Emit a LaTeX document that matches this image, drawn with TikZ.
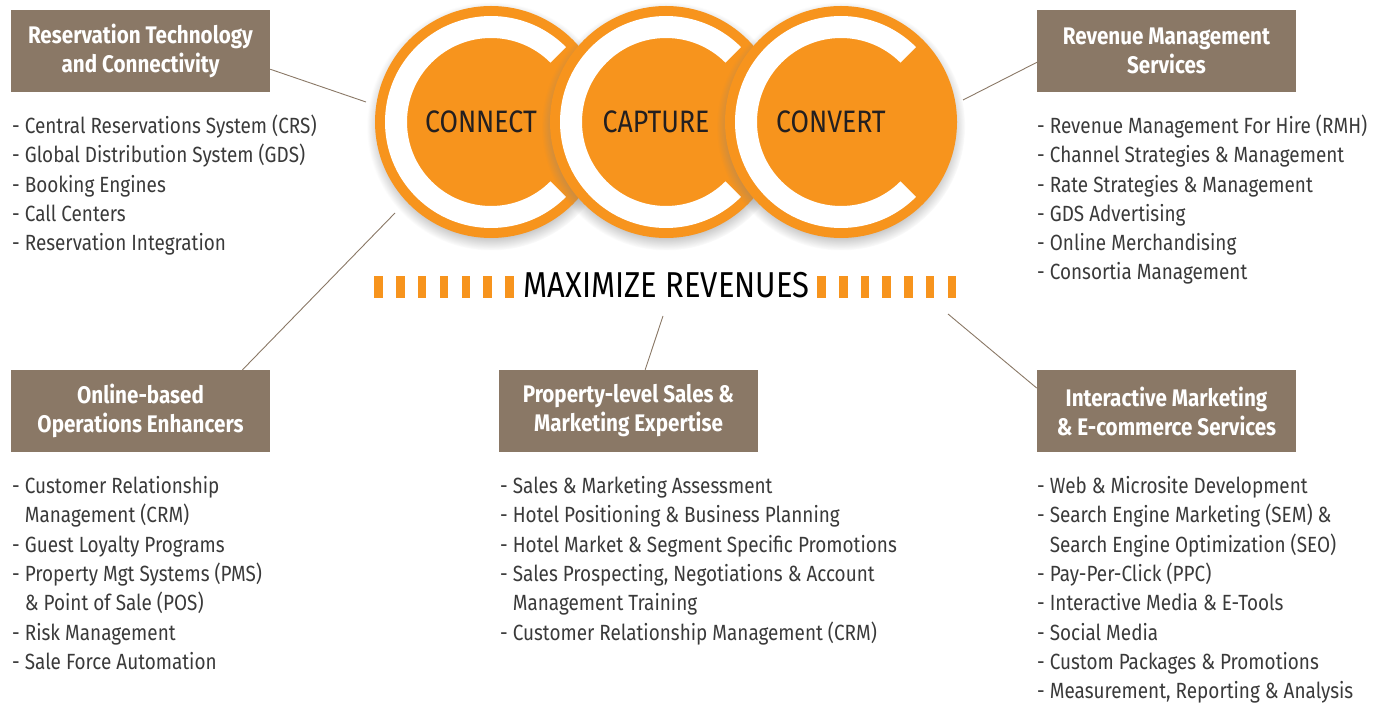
\documentclass[tikz,border=0pt]{standalone}
\usepackage{fontspec}
\setmainfont{Fira Sans}[FakeStretch=0.86]
\usetikzlibrary{positioning, shadows, calc}
\definecolor{boxbrown}{HTML}{8A7866}
\definecolor{ccorange}{HTML}{F7941D}
\definecolor{listgray}{HTML}{3A3A3A}
\definecolor{ccdark}{HTML}{231F20}
\newcommand{\ind}{\hphantom{- }}

\begin{document}
\begin{tikzpicture}[x=1pt, y=-1pt,
  hdr/.style={fill=boxbrown, text=white, minimum width=259, minimum height=82, inner sep=0pt, align=center, font=\fontsize{24}{29}\selectfont\bfseries},
  lst/.style={anchor=base west, inner sep=0pt, align=left, text=listgray, font=\fontsize{22}{29.3}\selectfont},
  ctext/.style={text=ccdark, font=\fontsize{31}{36}\selectfont},
  link/.style={draw=boxbrown, line width=0.9pt},
  bar/.style={fill=ccorange}]

\useasboundingbox (0,0) rectangle (1390,703);

% three C rings
\foreach \cx/\nm/\txt in {491/connect/CONNECT, 666/capture/CAPTURE, 841/convert/CONVERT}{
  \fill[ccorange, circular drop shadow={shadow scale=1.07, shadow xshift=0pt, shadow yshift=-4pt, opacity=0.6}] (\cx,122) circle (116);
  \fill[white] (\cx,122) ++(45:106) arc (45:315:106) -- ++(135:22) arc (315:45:84) -- cycle;
  \node[ctext] (\nm) at (\cx-10,122) {\txt};
}

% tagline with bars
\foreach \i in {0,...,6}{
  \fill[bar] (374.3+21.8*\i,276) rectangle ++(8.5,22);
  \fill[bar] (817.3+21.7*\i,276) rectangle ++(8.5,22);
}
\node[anchor=base, inner sep=0pt, text=black, font=\fontsize{36}{40}\selectfont] (maxrev) at (666.5,298) {MAXIMIZE REVENUES};

% headers
\node[hdr] (rtc) at (140.5,51) {Reservation Technology\\and Connectivity};
\node[hdr] (rms) at (1166.5,51) {Revenue Management\\Services};
\node[hdr] (obe) at (140.5,411) {Online-based\\Operations Enhancers};
\node[hdr] (pls) at (628.5,411) {Property-level Sales \&\\Marketing Expertise};
\node[hdr] (ims) at (1166.5,411) {Interactive Marketing\\\& E-commerce Services};

% lists (anchored on the baseline of the last line)
\node[lst] (rtcl) at (12,250.7) {- Central Reservations System (CRS)\\- Global Distribution System (GDS)\\- Booking Engines\\- Call Centers\\- Reservation Integration};
\node[lst] (rmsl) at (1037,280) {- Revenue Management For Hire (RMH)\\- Channel Strategies \& Management\\- Rate Strategies \& Management\\- GDS Advertising\\- Online Merchandising\\- Consortia Management};
\node[lst] (obel) at (12,669.3) {- Customer Relationship\\\ind Management (CRM)\\- Guest Loyalty Programs\\- Property Mgt Systems (PMS)\\\ind\& Point of Sale (POS)\\- Risk Management\\- Sale Force Automation};
\node[lst] (plsl) at (500,640) {- Sales \& Marketing Assessment\\- Hotel Positioning \& Business Planning\\- Hotel Market \& Segment Specific Promotions\\- Sales Prospecting, Negotiations \& Account\\\ind Management Training\\- Customer Relationship Management (CRM)};
\node[lst] (imsl) at (1037,698.6) {- Web \& Microsite Development\\- Search Engine Marketing (SEM) \&\\\ind Search Engine Optimization (SEO)\\- Pay-Per-Click (PPC)\\- Interactive Media \& E-Tools\\- Social Media\\- Custom Packages \& Promotions\\- Measurement, Reporting \& Analysis};

% connectors
\coordinate (e1) at (366,102);
\coordinate (e2) at (395,213);
\coordinate (e3) at (963,100);
\coordinate (e4) at (663,316);
\coordinate (e5) at (948,314);
\draw[link] (rtc.-8) -- (e1);
\draw[link] (obe.22) -- (e2);
\draw[link] (rms.185) -- (e3);
\draw[link] (pls.68) -- (e4);
\draw[link] (ims.170) -- (e5);

\end{tikzpicture}
\end{document}
